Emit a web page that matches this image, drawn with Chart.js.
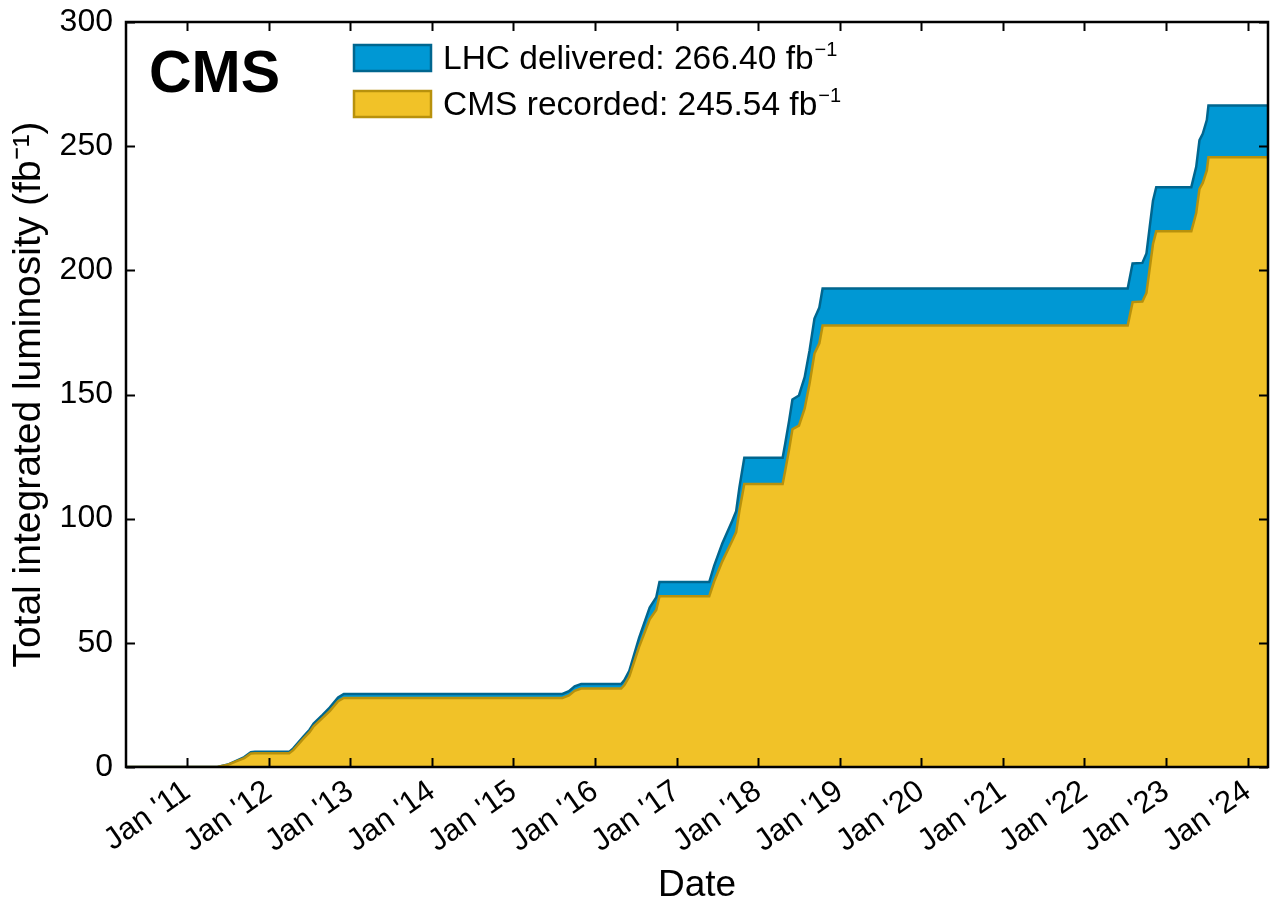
<!DOCTYPE html>
<html>
<head>
<meta charset="utf-8">
<title>CMS integrated luminosity</title>
<script src="https://cdn.jsdelivr.net/npm/chart.js@4.4.0/dist/chart.umd.min.js"></script>
<style>
  html, body { margin: 0; padding: 0; background: #fff; }
  #wrap { width: 1284px; height: 904px; position: relative; }
</style>
</head>
<body>
<div id="wrap"><canvas id="lumiChart"></canvas></div>
<script>
// x positions as decimal years (2011 = Jan 1st 2011)
const dates = [
  2010.25, 2011.37, 2011.50, 2011.60, 2011.70, 2011.78, 2011.83,
  2012.25, 2012.30, 2012.43, 2012.50, 2012.55, 2012.66, 2012.75, 2012.85, 2012.92,
  2015.60, 2015.68, 2015.75, 2015.83,
  2016.32, 2016.36, 2016.42, 2016.54, 2016.67, 2016.75, 2016.79,
  2017.40, 2017.46, 2017.56, 2017.68, 2017.73, 2017.77, 2017.83,
  2018.30, 2018.33, 2018.38, 2018.42, 2018.50, 2018.57, 2018.63, 2018.69, 2018.75, 2018.79,
  2022.53, 2022.59, 2022.71, 2022.76, 2022.80, 2022.84, 2022.88,
  2023.31, 2023.37, 2023.41, 2023.45, 2023.50, 2023.52,
  2024.25
];
// cumulative luminosity, fb^-1
const delivered = [
  0, 0, 1.0, 2.5, 4.0, 6.0, 6.1,
  6.1, 7.5, 12.5, 15.0, 17.5, 21.0, 24.0, 28.0, 29.4,
  29.4, 30.5, 32.5, 33.4,
  33.4, 35.0, 38.7, 52.0, 64.2, 68.3, 74.5,
  74.5, 81.0, 90.0, 99.0, 103.0, 112.6, 124.5,
  124.5, 130.0, 139.5, 148.0, 149.6, 157.0, 167.7, 180.6, 185.0, 192.7,
  192.7, 202.8, 203.0, 206.8, 217.5, 228.0, 233.5,
  233.5, 241.7, 252.4, 255.0, 260.5, 266.4,
  266.4
];
const recorded = [
  0, 0, 0.9, 2.3, 3.6, 5.4, 5.5,
  5.5, 6.8, 11.6, 14.0, 16.4, 19.8, 22.6, 26.5, 27.8,
  27.8, 28.8, 30.7, 31.6,
  31.6, 33.0, 36.4, 48.4, 59.5, 63.2, 68.8,
  68.8, 74.7, 82.8, 91.0, 94.6, 103.2, 114.0,
  114.0, 119.1, 128.0, 136.0, 137.5, 144.4, 154.4, 166.5, 170.6, 177.8,
  177.8, 187.2, 187.4, 190.9, 200.8, 210.6, 215.7,
  215.7, 223.1, 232.8, 235.2, 240.2, 245.5,
  245.5
];
const yearTicks = [2011, 2012, 2013, 2014, 2015, 2016, 2017, 2018, 2019, 2020, 2021, 2022, 2023, 2024];
const yTicks = [0, 50, 100, 150, 200, 250, 300];
const legendNames = ['LHC delivered: 266.40 fb', 'CMS recorded: 245.54 fb'];

const FONT = '"Liberation Sans", Arial, Helvetica, sans-serif';
const BLUE = '#0098d4', BLUE_EDGE = '#00668f';
const GOLD = '#f1c228', GOLD_EDGE = '#b8910c';

// inward ticks on all four sides, frame, CMS label and legend
const framePlugin = {
  id: 'frame',
  afterDraw(chart) {
    const { ctx, chartArea: a, scales: { x, y } } = chart;
    ctx.save();
    ctx.strokeStyle = '#000';
    ctx.lineWidth = 2;
    ctx.beginPath();
    yearTicks.forEach(v => {
      const px = Math.round(x.getPixelForValue(v)) + 0.5;
      ctx.moveTo(px, a.bottom); ctx.lineTo(px, a.bottom - 9);
      ctx.moveTo(px, a.top); ctx.lineTo(px, a.top + 9);
    });
    yTicks.forEach(v => {
      const py = Math.round(y.getPixelForValue(v)) + 0.5;
      ctx.moveTo(a.left, py); ctx.lineTo(a.left + 9, py);
      ctx.moveTo(a.right, py); ctx.lineTo(a.right - 9, py);
    });
    ctx.stroke();
    ctx.lineWidth = 2.5;
    ctx.strokeRect(a.left, a.top, a.right - a.left, a.bottom - a.top);

    ctx.fillStyle = '#000';
    ctx.textBaseline = 'alphabetic';
    ctx.font = 'bold 59px ' + FONT;
    ctx.fillText('CMS', 149, 92);

    const boxes = [[BLUE, BLUE_EDGE, 45], [GOLD, GOLD_EDGE, 91]];
    boxes.forEach(([fill, edge, top], i) => {
      ctx.fillStyle = fill;
      ctx.fillRect(354, top, 77, 26);
      ctx.strokeStyle = edge;
      ctx.lineWidth = 2.5;
      ctx.strokeRect(354, top, 77, 26);
      ctx.fillStyle = '#000';
      ctx.font = '33.5px ' + FONT;
      ctx.fillText(legendNames[i], 443, top + 24);
      const w = ctx.measureText(legendNames[i]).width;
      ctx.font = '20px ' + FONT;
      ctx.fillText('\u22121', 443 + w + 1, top + 11);
    });
    ctx.restore();
  }
};

new Chart(document.getElementById('lumiChart'), {
  type: 'line',
  data: {
    datasets: [
      {
        label: 'LHC delivered',
        data: dates.map((d, i) => ({ x: d, y: delivered[i] })),
        borderColor: BLUE_EDGE,
        backgroundColor: BLUE,
        borderWidth: 2.5,
        fill: 'origin',
        pointRadius: 0,
        tension: 0,
        order: 1
      },
      {
        label: 'CMS recorded',
        data: dates.map((d, i) => ({ x: d, y: recorded[i] })),
        borderColor: GOLD_EDGE,
        backgroundColor: GOLD,
        borderWidth: 2.5,
        fill: 'origin',
        pointRadius: 0,
        tension: 0,
        order: 0
      }
    ]
  },
  options: {
    responsive: true,
    maintainAspectRatio: false,
    animation: false,
    layout: { padding: { top: 22, right: 16, left: 0, bottom: 0 } },
    plugins: {
      legend: { display: false },
      tooltip: { enabled: false }
    },
    scales: {
      x: {
        type: 'linear',
        min: 2010.25,
        max: 2024.25,
        afterBuildTicks: s => { s.ticks = yearTicks.map(v => ({ value: v })); },
        afterFit: s => { s.height = 137; s.paddingLeft = 0; s.paddingRight = 0; },
        grid: { display: false, drawTicks: false },
        border: { display: false },
        ticks: {
          autoSkip: false,
          minRotation: 35,
          maxRotation: 35,
          padding: 6,
          color: '#000',
          font: { family: FONT, size: 31 },
          callback: v => "Jan '" + String(v).slice(2)
        },
        title: {
          display: true,
          text: 'Date',
          color: '#000',
          font: { family: FONT, size: 37, lineHeight: 1.0 },
          padding: { top: 0, bottom: 0 }
        }
      },
      y: {
        min: 0,
        max: 300,
        afterBuildTicks: s => { s.ticks = yTicks.map(v => ({ value: v })); },
        afterFit: s => { s.width = 126; s.paddingTop = 0; s.paddingBottom = 0; },
        grid: { display: false, drawTicks: false },
        border: { display: false },
        ticks: {
          padding: 13,
          color: '#000',
          font: { family: FONT, size: 32 }
        },
        title: {
          display: true,
          text: 'Total integrated luminosity (fb\u207B\u00B9)',
          color: '#000',
          font: { family: FONT, size: 39, lineHeight: 1.0 },
          padding: { top: 10, bottom: 0 }
        }
      }
    }
  },
  plugins: [framePlugin]
});
</script>
</body>
</html>
